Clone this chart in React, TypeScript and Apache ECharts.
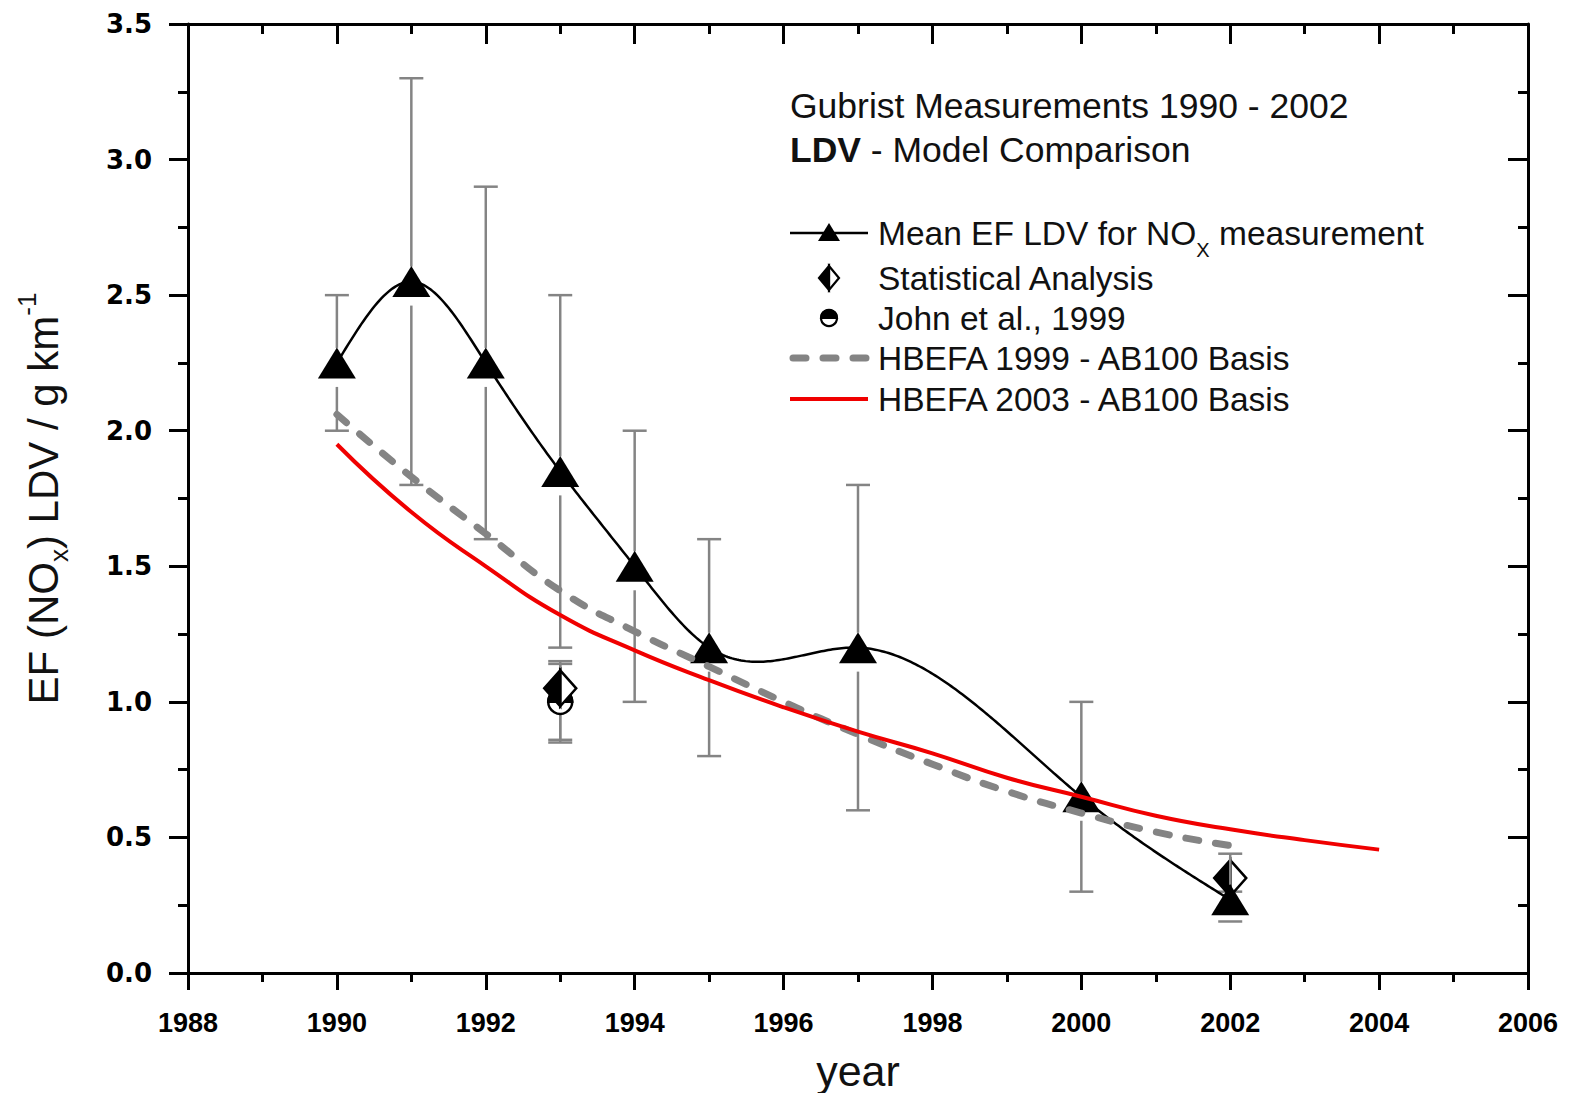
import React, { useEffect, useRef } from "react";
import * as echarts from "echarts";

// ---- data ----
const meanYears = [1990, 1991, 1992, 1993, 1994, 1995, 1997, 2000, 2002];
const meanValues = [2.25, 2.55, 2.25, 1.85, 1.5, 1.2, 1.2, 0.65, 0.27];
const meanLow = [2.0, 1.8, 1.6, 1.2, 1.0, 0.8, 0.6, 0.3, 0.19];
const meanHigh = [2.5, 3.3, 2.9, 2.5, 2.0, 1.6, 1.8, 1.0, 0.44];

const statYears = [1993, 2002];
const statValues = [1.05, 0.35];
const statLow = [0.85, 0.3];
const statHigh = [1.15, 0.36];

const johnYears = [1993];
const johnValues = [1.0];
const johnLow = [0.86];
const johnHigh = [1.14];

const hbefa99Years = [1990, 1991, 1992, 1993, 1994, 1995, 1996, 1997, 1998, 1999, 2000, 2001, 2002];
const hbefa99Values = [2.06, 1.83, 1.62, 1.41, 1.26, 1.13, 1.0, 0.88, 0.77, 0.67, 0.59, 0.52, 0.47];

const hbefa03Years = [1990, 1991, 1992, 1993, 1994, 1995, 1996, 1997, 1998, 1999, 2000, 2001, 2002, 2003, 2004];
const hbefa03Values = [1.95, 1.7, 1.5, 1.32, 1.19, 1.08, 0.98, 0.89, 0.81, 0.72, 0.65, 0.58, 0.53, 0.49, 0.455];

const legendLabels = [
  "Mean EF LDV for NO",
  "Statistical Analysis",
  "John et al., 1999",
  "HBEFA 1999 - AB100 Basis",
  "HBEFA 2003 - AB100 Basis",
];
const titleLine1 = "Gubrist Measurements 1990 - 2002";

const FONT = '"Liberation Sans", Arial, sans-serif';
const GRAY = "#848484";
const RED = "#f00000";

// natural cubic spline through the measured points (used only to draw the connecting curve)
function naturalSpline(xs: number[], ys: number[]) {
  const n = xs.length;
  const h: number[] = [];
  for (let i = 0; i < n - 1; i++) h[i] = xs[i + 1] - xs[i];
  const alpha: number[] = [0];
  for (let i = 1; i < n - 1; i++) {
    alpha[i] = (3 / h[i]) * (ys[i + 1] - ys[i]) - (3 / h[i - 1]) * (ys[i] - ys[i - 1]);
  }
  const l: number[] = [1];
  const mu: number[] = [0];
  const z: number[] = [0];
  for (let i = 1; i < n - 1; i++) {
    l[i] = 2 * (xs[i + 1] - xs[i - 1]) - h[i - 1] * mu[i - 1];
    mu[i] = h[i] / l[i];
    z[i] = (alpha[i] - h[i - 1] * z[i - 1]) / l[i];
  }
  l[n - 1] = 1;
  z[n - 1] = 0;
  const c: number[] = new Array(n).fill(0);
  const b: number[] = [];
  const d: number[] = [];
  for (let j = n - 2; j >= 0; j--) {
    c[j] = z[j] - mu[j] * c[j + 1];
    b[j] = (ys[j + 1] - ys[j]) / h[j] - (h[j] * (c[j + 1] + 2 * c[j])) / 3;
    d[j] = (c[j + 1] - c[j]) / (3 * h[j]);
  }
  return (x: number) => {
    let j = 0;
    while (j < n - 2 && x > xs[j + 1]) j++;
    const dx = x - xs[j];
    return ys[j] + b[j] * dx + c[j] * dx * dx + d[j] * dx * dx * dx;
  };
}

function makeErrorBars(gapTop: number, gapBottom: number, capW: number) {
  return (params: any, api: any) => {
    const x = api.value(0);
    const lo = api.coord([x, api.value(1)]);
    const hi = api.coord([x, api.value(2)]);
    const c = api.coord([x, api.value(3)]);
    const style = { stroke: GRAY, lineWidth: 2.5 };
    const children: any[] = [];
    const topEnd = c[1] - gapTop;
    const botStart = c[1] + gapBottom;
    if (hi[1] < topEnd) {
      children.push({ type: "line", shape: { x1: c[0], y1: hi[1], x2: c[0], y2: topEnd }, style });
    }
    if (lo[1] > botStart) {
      children.push({ type: "line", shape: { x1: c[0], y1: botStart, x2: c[0], y2: lo[1] }, style });
    }
    children.push({ type: "line", shape: { x1: c[0] - capW / 2, y1: hi[1], x2: c[0] + capW / 2, y2: hi[1] }, style });
    children.push({ type: "line", shape: { x1: c[0] - capW / 2, y1: lo[1], x2: c[0] + capW / 2, y2: lo[1] }, style });
    return { type: "group", children };
  };
}

function diamondShapes(cx: number, cy: number, w: number, h: number, lw: number) {
  return [
    { type: "polygon", shape: { points: [[cx, cy - h], [cx + w, cy], [cx, cy + h]] }, style: { fill: "#fff", stroke: "#000", lineWidth: lw, lineJoin: "miter" } },
    { type: "polygon", shape: { points: [[cx, cy - h], [cx - w, cy], [cx, cy + h]] }, style: { fill: "#000", stroke: "#000", lineWidth: lw, lineJoin: "miter" } },
  ];
}

function halfCircleShapes(cx: number, cy: number, r: number, lw: number) {
  return [
    { type: "circle", shape: { cx, cy, r }, style: { fill: "#fff", stroke: "#000", lineWidth: lw } },
    { type: "sector", shape: { cx, cy, r0: 0, r, startAngle: Math.PI, endAngle: Math.PI * 2, clockwise: true }, style: { fill: "#000", stroke: "#000", lineWidth: lw } },
  ];
}

export default function App() {
  const ref = useRef<HTMLDivElement>(null);

  useEffect(() => {
    if (!ref.current) return;
    const chart = echarts.init(ref.current, undefined, { renderer: "svg" });

    const meanCurve = naturalSpline(meanYears, meanValues);

    const axisLineStyle = { color: "#000", width: 3 };
    const xLabelStyle = {
      color: "#000",
      fontSize: 27,
      fontWeight: "bold" as const,
      fontFamily: '"Liberation Sans Narrow", "Liberation Sans", Arial, sans-serif',
      margin: 36,
      formatter: (v: number) => String(v),
    };

    const legendX = 790;
    const symX = 829;
    const textX = 878;
    const rowY = [233, 278, 318, 358, 399];
    const LEG_FS = 33.5;
    const TITLE_FS = 35.5;
    const legendTextStyle = (text: string, y: number) => ({
      type: "text",
      x: textX,
      y,
      style: { text, fill: "#111", fontSize: LEG_FS, fontFamily: FONT, verticalAlign: "middle" },
    });

    const graphic: any[] = [
      { type: "text", x: legendX, y: 106, style: { text: titleLine1, fill: "#111", fontSize: TITLE_FS, fontFamily: FONT, verticalAlign: "middle" } },
      {
        type: "text",
        x: legendX,
        y: 150,
        style: {
          text: "{b|LDV}{n| - Model Comparison}",
          verticalAlign: "middle",
          rich: {
            b: { fontSize: TITLE_FS, fontWeight: "bold", fontFamily: FONT, fill: "#111" },
            n: { fontSize: TITLE_FS, fontFamily: FONT, fill: "#111" },
          },
        },
      },
      // row 1
      { type: "line", shape: { x1: legendX, y1: rowY[0], x2: 868, y2: rowY[0] }, style: { stroke: "#000", lineWidth: 2.5 } },
      { type: "polygon", shape: { points: [[symX, rowY[0] - 10], [symX + 11, rowY[0] + 8], [symX - 11, rowY[0] + 8]] }, style: { fill: "#000" } },
      {
        type: "text",
        x: textX,
        y: rowY[0],
        style: {
          text: "{n|" + legendLabels[0] + "}{s|X}{n| measurement}",
          verticalAlign: "middle",
          rich: {
            n: { fontSize: LEG_FS, fontFamily: FONT, fill: "#111" },
            s: { fontSize: 20, fontFamily: FONT, fill: "#111", padding: [34, 0, 0, 0] },
          },
        },
      },
      // row 2
      ...diamondShapes(symX, rowY[1], 10, 12, 2.2),
      legendTextStyle(legendLabels[1], rowY[1]),
      // row 3
      ...halfCircleShapes(symX, rowY[2], 8, 2.2),
      legendTextStyle(legendLabels[2], rowY[2]),
      // row 4
      { type: "line", shape: { x1: legendX + 3, y1: rowY[3], x2: 868, y2: rowY[3] }, style: { stroke: GRAY, lineWidth: 7, lineDash: [13, 17], lineCap: "round" } },
      legendTextStyle(legendLabels[3], rowY[3]),
      // row 5
      { type: "line", shape: { x1: legendX, y1: rowY[4], x2: 868, y2: rowY[4] }, style: { stroke: RED, lineWidth: 4 } },
      legendTextStyle(legendLabels[4], rowY[4]),
    ];

    const option: any = {
      animation: false,
      backgroundColor: "#fff",
      grid: { left: 188, right: 46, top: 24, bottom: 120, containLabel: false, outerBoundsMode: "none" },
      xAxis: [
        {
          type: "value",
          min: 1988,
          max: 2006,
          interval: 2,
          position: "bottom",
          axisLine: { show: true, onZero: false, lineStyle: axisLineStyle },
          axisTick: { show: true, inside: false, length: 17, lineStyle: axisLineStyle },
          minorTick: { show: true, splitNumber: 2, length: 9, lineStyle: axisLineStyle },
          splitLine: { show: false },
          axisLabel: xLabelStyle,
          name: "year",
          nameLocation: "middle",
          nameGap: 76,
          nameTextStyle: { fontSize: 43, fontFamily: FONT, color: "#111" },
        },
        {
          type: "value",
          min: 1988,
          max: 2006,
          interval: 2,
          position: "top",
          axisLine: { show: true, onZero: false, lineStyle: axisLineStyle },
          axisTick: { show: true, inside: true, length: 20, lineStyle: axisLineStyle },
          minorTick: { show: true, splitNumber: 2, length: 10, lineStyle: axisLineStyle },
          splitLine: { show: false },
          axisLabel: { show: false },
        },
      ],
      yAxis: [
        {
          type: "value",
          min: 0,
          max: 3.5,
          interval: 0.5,
          position: "left",
          axisLine: { show: true, onZero: false, lineStyle: axisLineStyle },
          axisTick: { show: true, inside: false, length: 19, lineStyle: axisLineStyle },
          minorTick: { show: true, splitNumber: 2, length: 10, lineStyle: axisLineStyle },
          splitLine: { show: false },
          axisLabel: {
            color: "#000",
            fontSize: 26,
            fontWeight: "bold",
            fontFamily: '"DejaVu Sans", sans-serif',
            margin: 36,
            formatter: (v: number) => v.toFixed(1),
          },
          name: "{n|EF (NO}{s|x}{n|) LDV / g km}{p|-1}",
          nameLocation: "middle",
          nameGap: 116,
          nameRotate: 90,
          nameTextStyle: {
            rich: {
              n: { fontSize: 42, fontFamily: FONT, color: "#111" },
              s: { fontSize: 26, fontFamily: FONT, color: "#111", padding: [32, 0, 0, 0] },
              p: { fontSize: 26, fontFamily: FONT, color: "#111", padding: [0, 0, 32, 0] },
            },
          },
        },
        {
          type: "value",
          min: 0,
          max: 3.5,
          interval: 0.5,
          position: "right",
          axisLine: { show: true, onZero: false, lineStyle: axisLineStyle },
          axisTick: { show: true, inside: true, length: 20, lineStyle: axisLineStyle },
          minorTick: { show: true, splitNumber: 2, length: 10, lineStyle: axisLineStyle },
          splitLine: { show: false },
          axisLabel: { show: false },
        },
      ],
      series: [
        {
          name: "Statistical Analysis error",
          type: "custom",
          z: 3,
          renderItem: makeErrorBars(0, 0, 24),
          encode: { x: 0, y: [1, 2, 3] },
          data: statYears.map((y, i) => [y, statLow[i], statHigh[i], statValues[i]]),
        },
        {
          name: "John et al. error",
          type: "custom",
          z: 3,
          renderItem: makeErrorBars(0, 0, 24),
          encode: { x: 0, y: [1, 2, 3] },
          data: johnYears.map((y, i) => [y, johnLow[i], johnHigh[i], johnValues[i]]),
        },
        {
          name: "John et al., 1999",
          type: "custom",
          z: 4,
          renderItem: (params: any, api: any) => {
            const p = api.coord([api.value(0), api.value(1)]);
            return { type: "group", children: halfCircleShapes(p[0], p[1], 12, 2.5) };
          },
          encode: { x: 0, y: 1 },
          data: johnYears.map((y, i) => [y, johnValues[i]]),
        },
        {
          name: "Statistical Analysis",
          type: "custom",
          z: 5,
          renderItem: (params: any, api: any) => {
            const p = api.coord([api.value(0), api.value(1)]);
            return { type: "group", children: diamondShapes(p[0], p[1], 16, 18, 2.5) };
          },
          encode: { x: 0, y: 1 },
          data: statYears.map((y, i) => [y, statValues[i]]),
        },
        {
          name: "Mean error",
          type: "custom",
          z: 6,
          renderItem: makeErrorBars(15, 24, 24),
          encode: { x: 0, y: [1, 2, 3] },
          data: meanYears.map((y, i) => [y, meanLow[i], meanHigh[i], meanValues[i]]),
        },
        {
          name: "Mean EF LDV curve",
          type: "custom",
          z: 7,
          renderItem: (params: any, api: any) => {
            if (params.dataIndex !== 0) return null;
            const pts: number[][] = [];
            const x0 = meanYears[0];
            const x1 = meanYears[meanYears.length - 1];
            const steps = 400;
            for (let k = 0; k <= steps; k++) {
              const x = x0 + ((x1 - x0) * k) / steps;
              pts.push(api.coord([x, meanCurve(x)]));
            }
            return { type: "polyline", shape: { points: pts }, style: { stroke: "#000", lineWidth: 2.5, fill: null } };
          },
          encode: { x: 0, y: 1 },
          data: meanYears.map((y, i) => [y, meanValues[i]]),
        },
        {
          name: "Mean EF LDV for NOx measurement",
          type: "scatter",
          z: 8,
          symbol: "triangle",
          symbolSize: [38, 31],
          itemStyle: { color: "#000", opacity: 1 },
          data: meanYears.map((y, i) => [y, meanValues[i]]),
        },
        {
          name: "HBEFA 1999 - AB100 Basis",
          type: "line",
          z: 9,
          smooth: 0.5,
          showSymbol: false,
          symbol: "none",
          lineStyle: { color: GRAY, width: 7, type: [13, 17], cap: "round" },
          data: hbefa99Years.map((y, i) => [y, hbefa99Values[i]]),
        },
        {
          name: "HBEFA 2003 - AB100 Basis",
          type: "line",
          z: 10,
          smooth: 0.5,
          showSymbol: false,
          symbol: "none",
          lineStyle: { color: RED, width: 4 },
          data: hbefa03Years.map((y, i) => [y, hbefa03Values[i]]),
        },
      ],
      graphic,
    };

    chart.setOption(option);
    return () => chart.dispose();
  }, []);

  return (
    <div
      ref={ref}
      style={{ position: "absolute", left: 0, top: 0, width: 1574, height: 1093, background: "#fff" }}
    />
  );
}
